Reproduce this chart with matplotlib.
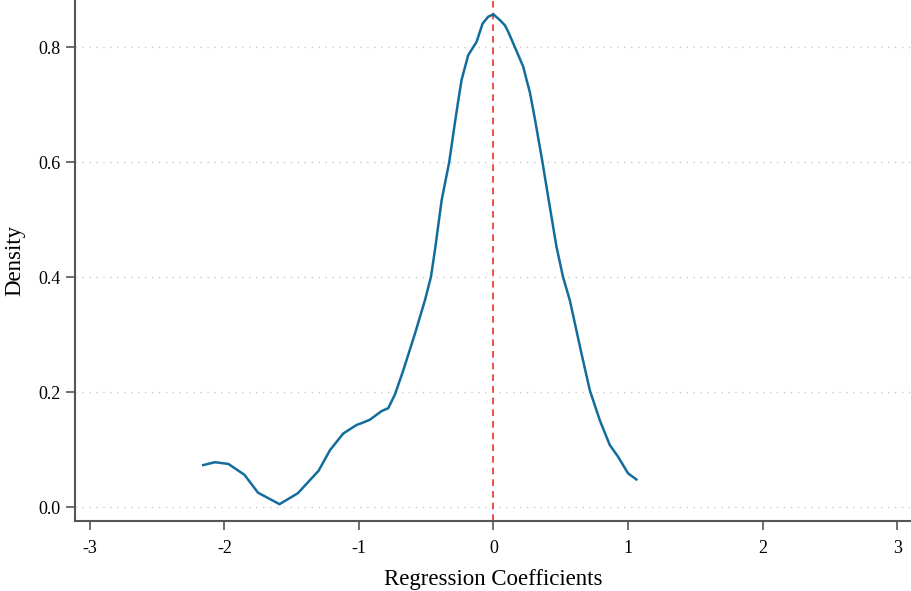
import matplotlib
matplotlib.use('Agg')
import matplotlib.pyplot as plot

# kernel density curve
coef = [-2.157, -2.07, -1.97, -1.85, -1.75, -1.59, -1.454, -1.30, -1.215, -1.116,
        -1.016, -0.979, -0.918, -0.831, -0.782, -0.732, -0.67, -0.583, -0.509, -0.465,
        -0.435, -0.385, -0.329, -0.287, -0.261, -0.237, -0.188, -0.126, -0.081, -0.039,
        0.0, 0.048, 0.085, 0.109, 0.159, 0.221, 0.246, 0.27, 0.307, 0.364,
        0.406, 0.468, 0.517, 0.567, 0.597, 0.654, 0.716, 0.79, 0.864, 0.926,
        1.0, 1.062]
dens = [0.073, 0.078, 0.075, 0.056, 0.025, 0.005, 0.024, 0.063, 0.099, 0.128,
        0.143, 0.146, 0.152, 0.167, 0.172, 0.196, 0.238, 0.302, 0.36, 0.4,
        0.447, 0.534, 0.6, 0.668, 0.708, 0.743, 0.786, 0.809, 0.841, 0.853,
        0.857, 0.847, 0.838, 0.827, 0.80, 0.766, 0.743, 0.722, 0.676, 0.6,
        0.54, 0.453, 0.4, 0.36, 0.328, 0.267, 0.203, 0.151, 0.108, 0.0875,
        0.0586, 0.048]

xt = [-3, -2, -1, 0, 1, 2, 3]
yt = [0.0, 0.2, 0.4, 0.6, 0.8]
ytl = ['0.0', '0.2', '0.4', '0.6', '0.8']

plot.rcParams['font.family'] = 'Liberation Serif'

fig = plot.figure(figsize=(9.12, 5.91), dpi=100)
ax = fig.add_axes([0.0822, 0.1184, 0.9178, 0.8816])

for y in yt:
    ax.axhline(y, color='#c8c8c8', linestyle=(0, (1, 4)), linewidth=1, zorder=0)
ax.axvline(0, color='#e8322c', linestyle=(0, (4, 3)), linewidth=1.2, zorder=1)
ax.plot(coef, dens, color='#136d9c', linewidth=1.8, zorder=2)

ax.set_xlim(-3.11, 3.11)
ax.set_ylim(-0.0243, 0.882)
ax.set_xticks(xt)
ax.set_xticklabels([str(v) for v in xt])
ax.set_yticks(yt)
ax.set_yticklabels(ytl)

for s in ['top', 'right']:
    ax.spines[s].set_visible(False)
for s in ['left', 'bottom']:
    ax.spines[s].set_color('#555555')
    ax.spines[s].set_linewidth(1.5)
ax.tick_params(direction='out', length=6.5, width=1.2, color='#555555', labelsize=13)
ax.tick_params(axis='x', pad=7)
ax.tick_params(axis='y', pad=4)

ax.set_xlabel('Regression Coefficients', fontsize=16.5, labelpad=9)
ax.set_ylabel('Density', fontsize=16.5, labelpad=9)

fig.savefig('out.png', dpi=100)
